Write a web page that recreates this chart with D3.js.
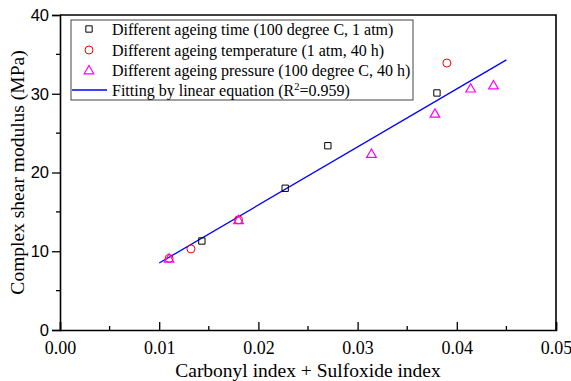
<!DOCTYPE html>
<html>
<head>
<meta charset="utf-8">
<script src="https://cdn.jsdelivr.net/npm/d3@7"></script>
<style>
  body { margin: 0; background: #fff; }
  svg { display: block; }
</style>
</head>
<body>
<svg id="chart"></svg>
<script>
// series
const timeX = [0.0143, 0.0227, 0.0270, 0.0380];
const timeY = [11.3, 18.0, 23.4, 30.1];
const tempX = [0.0110, 0.0132, 0.0180, 0.0390];
const tempY = [9.1, 10.3, 14.0, 33.9];
const presX = [0.0110, 0.0180, 0.0314, 0.0378, 0.0414, 0.0437];
const presY = [9.1, 14.0, 22.4, 27.5, 30.7, 31.1];
const fitX = [0.0100, 0.0450];
const fitY = [8.5, 34.3];

const xTicks = [0, 0.01, 0.02, 0.03, 0.04, 0.05];
const yTicks = [0, 10, 20, 30, 40];
const legendLabels = [
    'Different ageing time (100 degree C, 1 atm)',
    'Different ageing temperature (1 atm, 40 h)',
    'Different ageing pressure (100 degree C, 40 h)',
    'Fitting by linear equation (R'
];

const width = 571, height = 381;
const padding = {top: 15, right: 15, bottom: 51, left: 60};
const svg = d3.select('#chart')
    .attr('width', width)
    .attr('height', height);

const xScale = d3.scaleLinear()
    .domain([0, 0.05])
    .range([padding.left, width - padding.right]);
const yScale = d3.scaleLinear()
    .domain([0, 40])
    .range([height - padding.bottom, padding.top]);

const serif = '"Liberation Serif", "Times New Roman", serif';
const sans = '"Liberation Sans", Arial, sans-serif';

// x axis, ticks point inwards
const xAxis = d3.axisBottom(xScale)
    .tickValues(xTicks)
    .tickSize(-8)
    .tickPadding(11)
    .tickFormat(d3.format('.2f'));
const gx = svg.append('g')
    .attr('transform', `translate(0, ${height - padding.bottom})`)
    .call(xAxis);
gx.append('g').selectAll('line')
    .data(d3.range(0.005, 0.05, 0.01))
    .enter()
    .append('line')
    .attr('x1', d => xScale(d)).attr('x2', d => xScale(d))
    .attr('y1', 0).attr('y2', -4)
    .attr('stroke', '#000');
gx.selectAll('text')
    .attr('font-family', serif)
    .attr('font-size', 18)
    .attr('fill', '#000');

// y axis, ticks point outwards
const yAxis = d3.axisLeft(yScale)
    .tickValues(yTicks)
    .tickSize(8)
    .tickPadding(3)
    .tickFormat(d3.format('d'));
const gy = svg.append('g')
    .attr('transform', `translate(${padding.left}, 0)`)
    .call(yAxis);
gy.append('g').selectAll('line')
    .data([5, 15, 25, 35])
    .enter()
    .append('line')
    .attr('y1', d => yScale(d)).attr('y2', d => yScale(d))
    .attr('x1', 0).attr('x2', -4)
    .attr('stroke', '#000');
gy.selectAll('text')
    .attr('font-family', sans)
    .attr('font-size', 16.5)
    .attr('fill', '#000');

[gx, gy].forEach(g => {
    g.select('.domain').attr('stroke-width', 1.6);
    g.selectAll('line').attr('stroke-width', 1.3);
});

// top and right frame
svg.append('path')
    .attr('d', `M${xScale(0)},${yScale(40)}H${xScale(0.05)}V${yScale(0)}`)
    .attr('fill', 'none')
    .attr('stroke', '#000')
    .attr('stroke-width', 1.6);

// fitted line
const line = d3.line()
    .x(d => xScale(d[0]))
    .y(d => yScale(d[1]));
svg.append('path')
    .datum(d3.zip(fitX, fitY))
    .attr('d', line)
    .attr('fill', 'none')
    .attr('stroke', '#0000ff')
    .attr('stroke-width', 1.3);

const sqSym = d3.symbol().type(d3.symbolSquare).size(40);
const triSym = d3.symbol().type(d3.symbolTriangle).size(40);

const pts = svg.append('g');
pts.selectAll('circle')
    .data(d3.zip(tempX, tempY))
    .enter()
    .append('circle')
    .attr('cx', d => xScale(d[0]))
    .attr('cy', d => yScale(d[1]))
    .attr('r', 4)
    .attr('fill', 'none')
    .attr('stroke', '#ff0000')
    .attr('stroke-width', 1);
pts.selectAll('path.sq')
    .data(d3.zip(timeX, timeY))
    .enter()
    .append('path')
    .attr('class', 'sq')
    .attr('d', sqSym)
    .attr('transform', d => `translate(${xScale(d[0])}, ${yScale(d[1])})`)
    .attr('fill', 'none')
    .attr('stroke', '#000')
    .attr('stroke-width', 1);
pts.selectAll('path.tri')
    .data(d3.zip(presX, presY))
    .enter()
    .append('path')
    .attr('class', 'tri')
    .attr('d', triSym)
    .attr('transform', d => `translate(${xScale(d[0])}, ${yScale(d[1]) + 1})`)
    .attr('fill', 'none')
    .attr('stroke', '#ff00ff')
    .attr('stroke-width', 1.2);

// legend
const legend = svg.append('g');
legend.append('rect')
    .attr('x', 71).attr('y', 20)
    .attr('width', 342).attr('height', 80)
    .attr('fill', '#fff')
    .attr('stroke', '#444')
    .attr('stroke-width', 1);
const rowY = [29, 50, 70, 90];
legend.append('path')
    .attr('d', sqSym)
    .attr('transform', `translate(89, ${rowY[0]})`)
    .attr('fill', 'none').attr('stroke', '#000');
legend.append('circle')
    .attr('cx', 89).attr('cy', rowY[1]).attr('r', 4)
    .attr('fill', 'none').attr('stroke', '#ff0000');
legend.append('path')
    .attr('d', triSym)
    .attr('transform', `translate(89, ${rowY[2] + 1})`)
    .attr('fill', 'none').attr('stroke', '#ff00ff').attr('stroke-width', 1.2);
legend.append('line')
    .attr('x1', 72).attr('x2', 107)
    .attr('y1', rowY[3]).attr('y2', rowY[3])
    .attr('stroke', '#0000ff').attr('stroke-width', 1.3);
const lt = legend.selectAll('text.lab')
    .data(legendLabels)
    .enter()
    .append('text')
    .attr('class', 'lab')
    .attr('x', 112)
    .attr('y', (d, i) => rowY[i])
    .attr('dy', '0.35em')
    .attr('font-family', serif)
    .attr('font-size', 16)
    .text(d => d);
lt.filter((d, i) => i === 3)
    .append('tspan').attr('dy', -6).attr('font-size', 10.5).text('2');
lt.filter((d, i) => i === 3)
    .append('tspan').attr('dy', 6).text('=0.959)');

// axis labels
svg.append('text')
    .attr('x', (xScale(0) + xScale(0.05)) / 2)
    .attr('y', 377)
    .attr('text-anchor', 'middle')
    .attr('font-family', serif)
    .attr('font-size', 19.5)
    .text('Carbonyl index + Sulfoxide index');
svg.append('text')
    .attr('transform', `translate(24, ${(yScale(0) + yScale(40)) / 2}) rotate(-90)`)
    .attr('text-anchor', 'middle')
    .attr('font-family', serif)
    .attr('font-size', 19.5)
    .text('Complex shear modulus (MPa)');
</script>
</body>
</html>
